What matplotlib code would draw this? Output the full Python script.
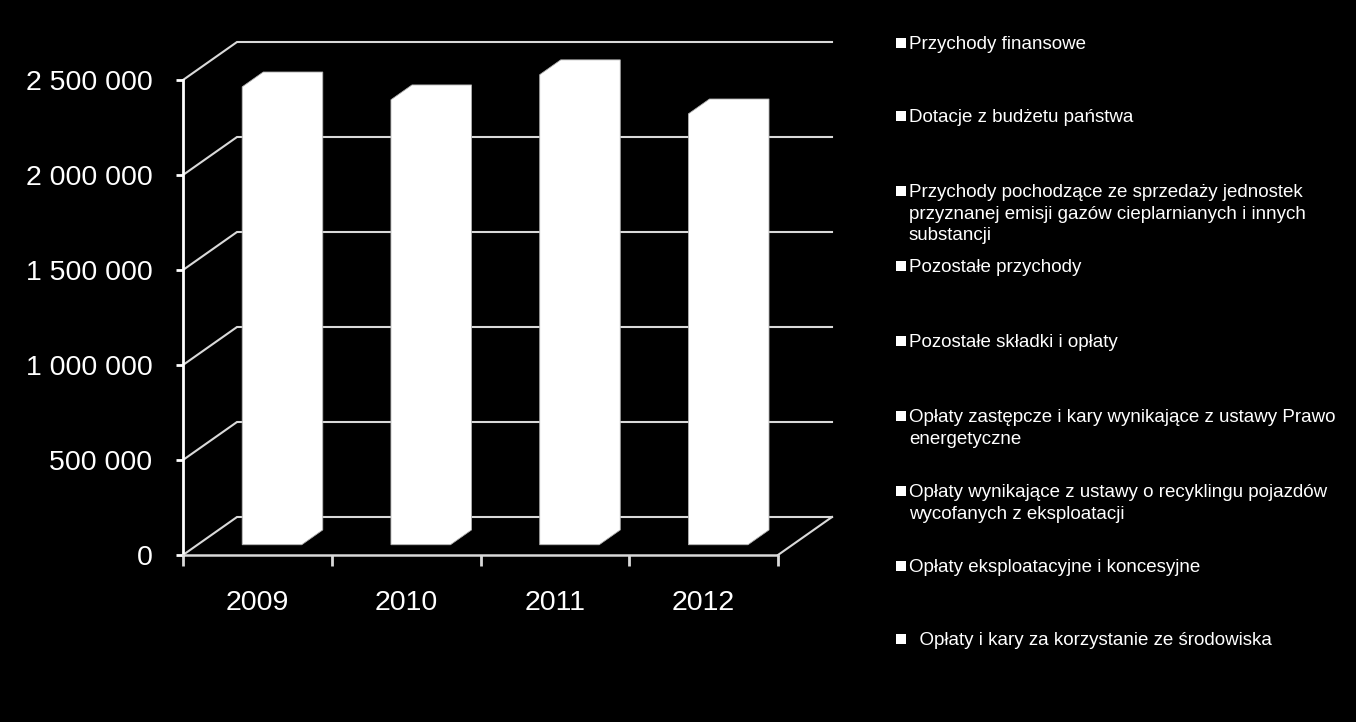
import matplotlib
matplotlib.use("Agg")
import matplotlib.pyplot as plt
from matplotlib.ticker import FuncFormatter

# data
years = ["2009", "2010", "2011", "2012"]
totals = [2410000, 2342000, 2474000, 2268000]
y_ticks = [0, 500000, 1000000, 1500000, 2000000, 2500000]
legend_labels = [
    "Przychody finansowe",
    "Dotacje z budżetu państwa",
    "Przychody pochodzące ze sprzedaży jednostek\nprzyznanej emisji gazów cieplarnianych i innych\nsubstancji",
    "Pozostałe przychody",
    "Pozostałe składki i opłaty",
    "Opłaty zastępcze i kary wynikające z ustawy Prawo\nenergetyczne",
    "Opłaty wynikające z ustawy o recyklingu pojazdów\nwycofanych z eksploatacji",
    "Opłaty eksploatacyjne i koncesyjne",
    "  Opłaty i kary za korzystanie ze środowiska",
]

plt.rcParams['font.family'] = ['Liberation Sans', 'DejaVu Sans']

W, H = 1356, 722
fig = plt.figure(figsize=(W / 100, H / 100), dpi=100, facecolor='black')

# front plane of the plot box
ax = fig.add_axes([183 / W, (H - 555) / H, 595 / W, 475 / H])
ax.set_facecolor('none')
n = len(years)
ymax = y_ticks[-1]
ax.set_xlim(0, n)
ax.set_ylim(0, ymax)

# 3d depth offset in data units
DX = 54 / (595 / n)
DY = 38 / 475 * ymax
front = 0.27   # depth position of bar front face
depth = 0.39   # bar depth
bw = 0.4       # bar width

grid_c = '#d9d9d9'
for v in y_ticks:
    ax.plot([0, DX, n + DX], [v, v + DY, v + DY], color=grid_c, lw=1.5,
            clip_on=False, zorder=1, solid_joinstyle='miter')
ax.plot([n, n + DX], [0, DY], color=grid_c, lw=1.5, clip_on=False, zorder=1)

# bars (all stacked segments are white)
for i, v in enumerate(totals):
    x0 = i + (1 - bw) / 2 + front * DX
    y0 = front * DY
    ddx, ddy = depth * DX, depth * DY
    xs = [x0, x0 + bw, x0 + bw + ddx, x0 + bw + ddx, x0 + ddx, x0]
    ys = [y0, y0, y0 + ddy, y0 + v + ddy, y0 + v + ddy, y0 + v]
    ax.fill(xs, ys, facecolor='white', edgecolor='#b0b0b0', lw=0.6,
            zorder=3, clip_on=False)

# axes styling
for s in ['top', 'right']:
    ax.spines[s].set_visible(False)
ax.spines['left'].set_color('white')
ax.spines['left'].set_linewidth(2)
ax.spines['bottom'].set_color(grid_c)
ax.spines['bottom'].set_linewidth(1.8)

ax.set_yticks(y_ticks)
ax.yaxis.set_major_formatter(FuncFormatter(lambda v, p: f"{v:,.0f}".replace(",", " ")))
ax.tick_params(axis='y', colors='white', labelcolor='white', length=5, width=2,
               pad=17, labelsize=20.5)

ax.set_xticks(range(n + 1))
ax.set_xticklabels([])
ax.set_xticks([i + 0.5 for i in range(n)], minor=True)
ax.set_xticklabels(years, minor=True)
ax.tick_params(axis='x', which='major', colors=grid_c, length=8, width=2)
ax.tick_params(axis='x', which='minor', length=0, pad=25, labelsize=20.5,
               labelcolor='white')

# legend drawn by hand (top aligned slots)
lax = fig.add_axes([0, 0, 1, 1])
lax.set_xlim(0, W)
lax.set_ylim(H, 0)
lax.axis('off')
baselines = [49, 122, 197, 272, 347, 422, 497, 572, 645]
line_step = 21.7
for lab, yb in zip(legend_labels, baselines):
    lax.scatter(900.5, yb - 6, marker='s', s=46, color='white', lw=0)
    for k, line in enumerate(lab.split("\n")):
        lax.text(909, yb + k * line_step, line, color='white', fontsize=13.5,
                 va='baseline', ha='left')

fig.savefig("out.png", dpi=100, facecolor='black')
